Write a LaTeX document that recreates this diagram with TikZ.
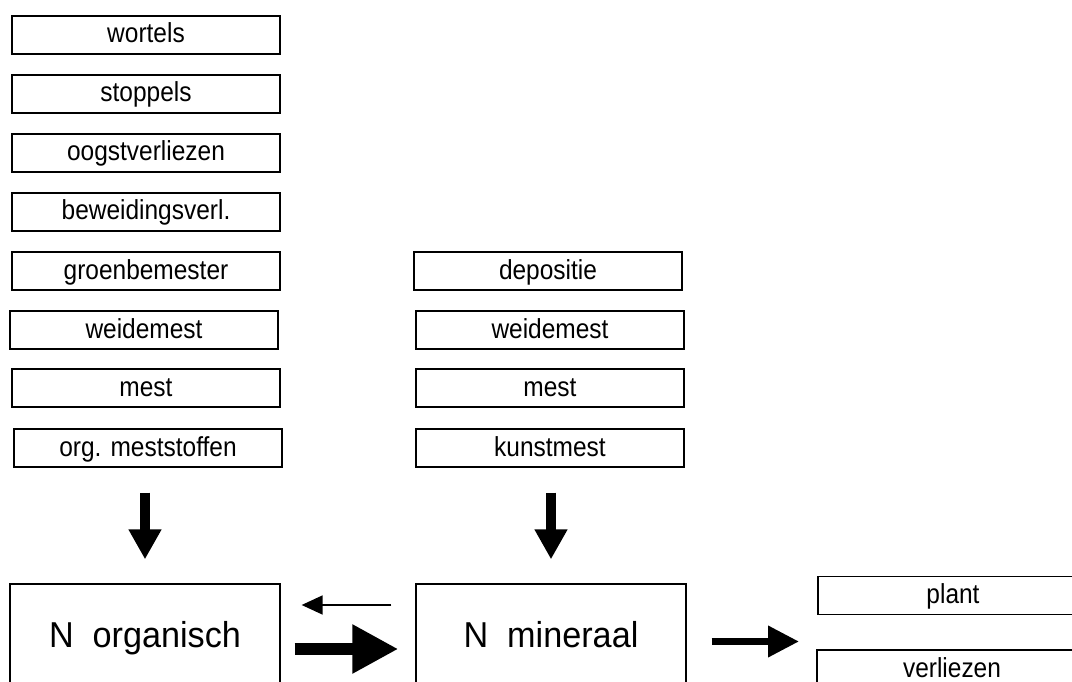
\documentclass[tikz,border=0pt]{standalone}
\usepackage{fontspec}
\setmainfont{Liberation Sans}[FakeStretch=0.89]
\newfontfamily\bigfont{Liberation Sans}[FakeStretch=0.95]
\usetikzlibrary{arrows.meta}

\begin{document}
\begin{tikzpicture}[x=1pt, y=-1pt,
    srcbox/.style={draw,line width=1.3pt,minimum width=268pt,minimum height=38pt,inner sep=0pt,
      text height=21pt,text depth=5pt,font=\fontsize{27.5}{33}\selectfont},
    poolbox/.style={draw,line width=1.3pt,minimum width=270pt,minimum height=100pt,inner sep=0pt,
      text height=30pt,text depth=4pt,font=\bigfont\fontsize{36}{43}\selectfont},
    downarr/.style={line width=10pt,-{Triangle[length=30pt,width=31pt]},
      shorten <=25pt,shorten >=24pt}]
  \useasboundingbox (0,0) rectangle (1072,682);
  \clip (0,0) rectangle (1072,682);
  \foreach \i/\xc/\yc/\lbl in {1/146/35/wortels, 2/146/94/stoppels, 3/146/153/oogstverliezen,
      4/146/212/beweidingsverl., 5/146/271/groenbemester, 6/144/330/weidemest,
      7/146/388/mest, 8/148/448/org. meststoffen} {
    \node[srcbox] (org\i) at (\xc,\yc) {\lbl};
  }
  \foreach \i/\xc/\yc/\lbl in {1/548/271/depositie, 2/550/330/weidemest,
      3/550/388/mest, 4/550/448/kunstmest} {
    \node[srcbox] (min\i) at (\xc,\yc) {\lbl};
  }
  \node[poolbox] (norg) at (145,634) {N\ \ organisch};
  \node[poolbox] (nmin) at (551,634) {N\ \ mineraal};
  \node[srcbox,minimum width=270pt] (plant) at (953,595.5) {plant};
  \node[srcbox,minimum width=270pt] (loss) at (952,669) {verliezen};
  \draw[downarr] (norg.north |- org8.south) -- (norg.north);
  \draw[downarr] (nmin.north |- min4.south) -- (nmin.north);
  \draw[line width=1.7pt,-{Triangle[length=21pt,width=19pt]},shorten <=24pt,shorten >=21pt]
    ([yshift=29pt]nmin.west) -- ([yshift=29pt]norg.east);
  \draw[line width=12pt,-{Triangle[length=46pt,width=46pt]},shorten <=14pt,shorten >=17pt]
    ([yshift=-15pt]norg.east) -- ([yshift=-15pt]nmin.west);
  \coordinate (fork) at (799,641.5);
  \draw[line width=7pt,-{Triangle[length=31pt,width=30pt]},shorten <=25pt]
    (nmin.east |- fork) -- (fork);
\end{tikzpicture}
\end{document}
